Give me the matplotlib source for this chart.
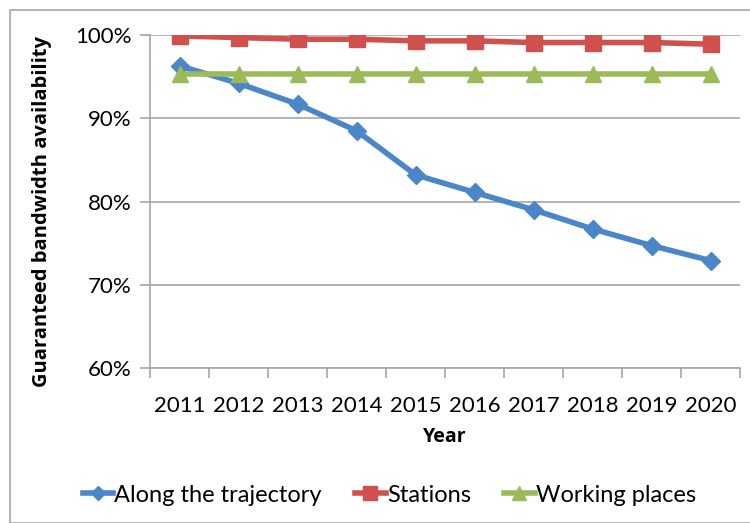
import matplotlib.pyplot as plt
import numpy as np
from matplotlib.patches import Rectangle
from matplotlib.ticker import FixedLocator, NullFormatter, FuncFormatter

# Data
years = ['2011', '2012', '2013', '2014', '2015', '2016', '2017', '2018', '2019', '2020']
trajectory = [96.3, 94.2, 91.7, 88.5, 83.2, 81.1, 79.0, 76.7, 74.7, 72.9]
stations = [99.9, 99.7, 99.5, 99.5, 99.3, 99.3, 99.1, 99.1, 99.1, 98.9]
working_places = [95.3, 95.3, 95.3, 95.3, 95.3, 95.3, 95.3, 95.3, 95.3, 95.3]

plt.rcParams['font.family'] = ['Lato', 'DejaVu Sans']

fig = plt.figure(figsize=(7.5, 5.23), dpi=100)
ax = fig.add_axes([0.2, 0.2964, 0.787, 0.6366])

# outer chart border
fig.patches.append(Rectangle((10 / 750, 0), 1, 1 - 10 / 523, transform=fig.transFigure,
                             fill=False, edgecolor='#a6a6a6', linewidth=1.2))

x = np.arange(len(years))
ax.plot(x, trajectory, color='#4A86C8', linewidth=4, marker='D', markersize=9,
        label='Along the trajectory', zorder=3)
ax.plot(x, stations, color='#D0504D', linewidth=4, marker='s', markersize=12,
        label='Stations', zorder=3)
ax.plot(x, working_places, color='#9BBB59', linewidth=4, marker='^', markersize=12,
        label='Working places', zorder=3)

ax.set_xlim(-0.5, len(years) - 0.5)
ax.set_ylim(60, 100)
ax.set_yticks([60, 70, 80, 90, 100])
ax.yaxis.set_major_formatter(FuncFormatter(lambda v, p: f'{v:.0f}%'))
ax.grid(axis='y', color='#a6a6a6', linewidth=1.2)
ax.set_axisbelow(True)

# category axis: tick marks between categories, labels centered
ax.xaxis.set_major_locator(FixedLocator(np.arange(-0.5, len(years), 1)))
ax.xaxis.set_major_formatter(NullFormatter())
ax.xaxis.set_minor_locator(FixedLocator(x))
ax.set_xticklabels(years, minor=True)
ax.tick_params(axis='x', which='major', length=7, color='#a6a6a6', width=1.2)
ax.tick_params(axis='x', which='minor', length=0, pad=20, labelsize=16)
ax.tick_params(axis='y', length=7, color='#a6a6a6', width=1.2, labelsize=16, pad=6)

for s in ['top', 'right']:
    ax.spines[s].set_visible(False)
for s in ['left', 'bottom']:
    ax.spines[s].set_color('#a6a6a6')
    ax.spines[s].set_linewidth(1.2)

ax.set_xlabel('Year', fontsize=14, fontweight='bold', family='Open Sans')
ax.set_ylabel('Guaranteed bandwidth availability', fontsize=14.5, fontweight='bold',
              family='Open Sans')
ax.xaxis.set_label_coords(0.5, -0.207)
ax.yaxis.set_label_coords(-0.183, 0.471)
ax.xaxis.label.set_va('center')
ax.yaxis.label.set_va('center')

fig.legend(loc='center', bbox_to_anchor=(0.519, 1 - 495 / 523), ncol=3, frameon=False,
           fontsize=17, handlelength=1.3, handletextpad=0.05, columnspacing=1.4,
           markerscale=0.8)

fig.savefig('out.png', dpi=100)
